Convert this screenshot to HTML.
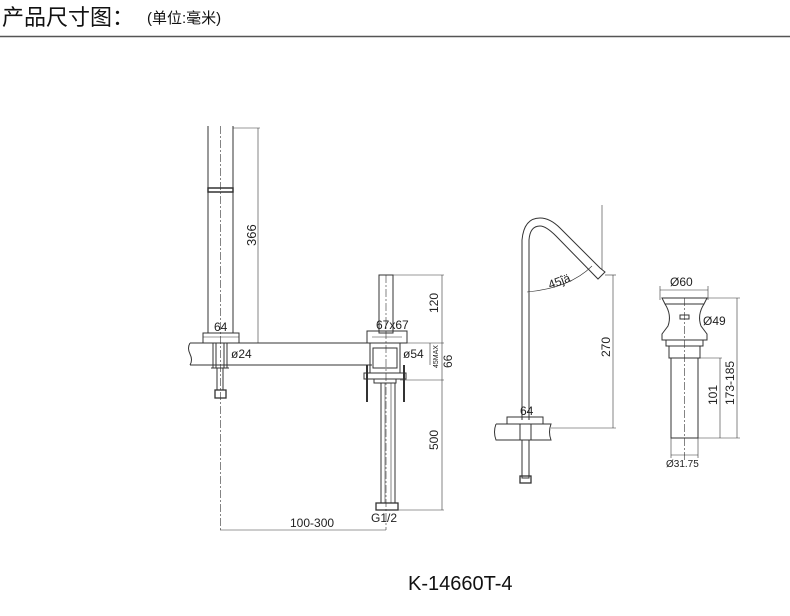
<!DOCTYPE html>
<html><head><meta charset="utf-8"><style>
body{margin:0;background:#fff;width:790px;height:616px;overflow:hidden}
svg{display:block}
text{font-family:"Liberation Sans",sans-serif;fill:#222}
</style></head><body>
<svg width="790" height="616" viewBox="0 0 790 616" xmlns="http://www.w3.org/2000/svg">
<text x="2" y="25" style="font-family:'Liberation Sans','Noto Sans CJK SC',sans-serif;font-size:22px;fill:#111">产品尺寸图：</text>
<text x="147" y="23" style="font-family:'Liberation Sans','Noto Sans CJK SC',sans-serif;font-size:15px;fill:#111">(单位:毫米)</text>
<line x1="0" y1="36.5" x2="790" y2="36.5" stroke="#555" stroke-width="1.5"/>

<g fill="none" stroke="#333" stroke-width="1">
<line x1="208" y1="126" x2="208" y2="333"/><line x1="233" y1="126" x2="233" y2="333"/>
<line x1="220.5" y1="126" x2="220.5" y2="530" stroke-dasharray="8,2,2,2" stroke-width="0.6"/>
<rect x="208" y="188" width="25" height="4" stroke-width="1.5"/>
<line x1="233" y1="128" x2="260" y2="128" stroke-width="0.6"/>
<line x1="258" y1="128" x2="258" y2="343" stroke-width="0.6"/>
<rect x="203" y="333" width="36" height="10"/>
<line x1="203" y1="337" x2="239" y2="337" stroke-width="0.6"/>
<path d="M190 343 H372 M190 365 H372 M190 343 q-3 5 0 11 q3 6 0 11"/>
<rect x="213" y="343" width="14" height="25"/>
<line x1="216" y1="343" x2="216" y2="368"/><line x1="224" y1="343" x2="224" y2="368"/>
<line x1="211" y1="368" x2="229" y2="368"/>
<rect x="217" y="368" width="6" height="22"/>
<rect x="215" y="390" width="11" height="8" stroke-width="1.3"/>
<rect x="379" y="275" width="14" height="58"/>
<line x1="393" y1="275" x2="444" y2="275" stroke-width="0.6"/>
<rect x="367" y="331" width="40" height="12"/>
<line x1="372" y1="337" x2="402" y2="337" stroke-width="0.6"/>
<rect x="370" y="343" width="30" height="30"/>
<rect x="373" y="348" width="24" height="20"/>
<rect x="364" y="373" width="42" height="6"/>
<line x1="367" y1="365" x2="367" y2="402" stroke-width="2"/><line x1="404" y1="365" x2="404" y2="402" stroke-width="2"/>
<rect x="374" y="379" width="22" height="4"/>
<rect x="381" y="383" width="14" height="120"/>
<line x1="385" y1="383" x2="385" y2="503" stroke-width="0.6"/><line x1="391" y1="383" x2="391" y2="503" stroke-width="0.6"/>
<rect x="376" y="503" width="22" height="7" stroke-width="1.3"/>
<line x1="386" y1="275" x2="386" y2="530" stroke-dasharray="8,2,2,2" stroke-width="0.6"/>
<line x1="442" y1="275" x2="442" y2="510" stroke-width="0.6"/>
<line x1="400" y1="343" x2="444" y2="343" stroke-width="0.6"/>
<line x1="400" y1="380" x2="444" y2="380" stroke-width="0.6"/>
<line x1="398" y1="510" x2="444" y2="510" stroke-width="0.6"/>
<line x1="430" y1="343" x2="430" y2="365" stroke-width="0.6"/>
<line x1="220" y1="530" x2="386" y2="530" stroke-width="0.6"/>
<path d="M522 420 V240 Q524 218 540 218 Q550 218 560 228 L600 268 L605 272 L598 279 L556 236 Q546 226 540 226 Q530 226 529 240 V420"/>
<line x1="602" y1="205" x2="602" y2="270" stroke-width="0.6"/>
<line x1="605" y1="275" x2="616" y2="275" stroke-width="0.6"/>
<line x1="613" y1="275" x2="613" y2="428" stroke-width="0.6"/>
<path d="M527 292 Q570 288 592 266" stroke-width="0.6"/>
<rect x="507" y="417" width="36" height="7"/>
<path d="M496 424 H551 q-3 8 0 16 H496 q-3 -8 0 -16"/>
<line x1="551" y1="428" x2="616" y2="428" stroke-width="0.6"/>
<rect x="520" y="424" width="11" height="16"/>
<rect x="522" y="440" width="7" height="38"/>
<rect x="520" y="476" width="11" height="7" stroke-width="1.3"/>
<line x1="660" y1="290" x2="708" y2="290" stroke-width="0.6"/>
<line x1="660" y1="286" x2="660" y2="300" stroke-width="0.6"/><line x1="708" y1="286" x2="708" y2="300" stroke-width="0.6"/>
<path d="M662 298 H707 L704 304 H665 Z"/>
<path d="M665 304 Q672 315 668 326 L662 334 V340 H707 V334 L701 326 Q697 315 704 304"/>
<rect x="680" y="315" width="9" height="4"/>
<rect x="666" y="340" width="37" height="6"/>
<rect x="669" y="346" width="31" height="12"/>
<rect x="671" y="358" width="27" height="80"/>
<line x1="684.5" y1="298" x2="684.5" y2="460" stroke-dasharray="8,2,2,2" stroke-width="0.6"/>
<line x1="707" y1="298" x2="740" y2="298" stroke-width="0.6"/>
<line x1="698" y1="358" x2="722" y2="358" stroke-width="0.6"/>
<line x1="698" y1="438" x2="740" y2="438" stroke-width="0.6"/>
<line x1="720" y1="358" x2="720" y2="438" stroke-width="0.6"/>
<line x1="737" y1="298" x2="737" y2="438" stroke-width="0.6"/>
<line x1="671" y1="438" x2="671" y2="458" stroke-width="0.6"/><line x1="698" y1="438" x2="698" y2="458" stroke-width="0.6"/>
<line x1="671" y1="455" x2="698" y2="455" stroke-width="0.6"/>
</g>

<g font-size="12">
<text x="214" y="331">64</text>
<text x="231" y="358">ø24</text>
<text x="376" y="329">67x67</text>
<text x="403" y="358">ø54</text>
<text x="290" y="527">100-300</text>
<text x="371" y="522">G1/2</text>
<text x="520" y="415">64</text>
<text x="670" y="286">Ø60</text>
<text x="703" y="325">Ø49</text>
<text x="666" y="467" font-size="10">Ø31.75</text>
<text transform="translate(256,246) rotate(-90)" font-size="13">366</text>
<text transform="translate(438,313) rotate(-90)">120</text>
<text transform="translate(438,450) rotate(-90)">500</text>
<text transform="translate(438,368) rotate(-90)" font-size="7">45MAX</text>
<text transform="translate(452,368) rotate(-90)">66</text>
<text transform="translate(610,357) rotate(-90)">270</text>
<text transform="translate(717,405) rotate(-90)">101</text>
<text transform="translate(734,405) rotate(-90)">173-185</text>
<text transform="translate(550,289) rotate(-20)">45ĵä</text>
</g>
<text x="408" y="590" font-size="20" style="fill:#111">K-14660T-4</text>
</svg>
</body></html>
